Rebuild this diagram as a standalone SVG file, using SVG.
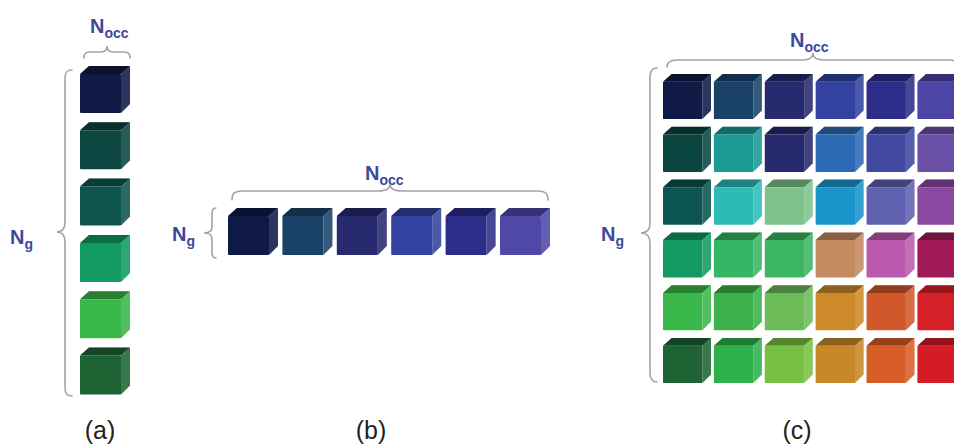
<svg xmlns="http://www.w3.org/2000/svg" xmlns:xlink="http://www.w3.org/1999/xlink" width="954" height="444" viewBox="0 0 954 444">
  <style>
    .lbl { font-family: "Liberation Sans", Arial, sans-serif; font-weight: bold; font-size: 20px; fill: #3c489c; }
    .sub { font-size: 14px; }
    .cap { font-family: "Liberation Sans", Arial, sans-serif; font-size: 25px; fill: #222; text-anchor: middle; }
    .brace { fill: none; stroke: #a3a3a3; stroke-width: 1.6; stroke-linecap: round; }
  </style>
  <defs>
    <!-- one cube, coloured through currentColor; 50 x 47 box -->
    <g id="cube">
      <path d="M0,8 L9,0 L50,0 L41,8 Z" fill="currentColor"/>
      <path d="M0,8 L9,0 L50,0 L41,8 Z" fill="#000" fill-opacity="0.3"/>
      <rect x="0" y="8" width="41" height="39" rx="1" fill="currentColor"/>
      <path d="M41,8 L50,0 L50,38 L41,47 Z" fill="currentColor"/>
      <path d="M41,8 L50,0 L50,38 L41,47 Z" fill="#fff" fill-opacity="0.12"/>
    </g>
  </defs>

  <!-- (a) single column -->
  <g id="panel-a">
    <text class="lbl" x="90" y="33">N<tspan class="sub" dy="5">occ</tspan></text>
    <text class="lbl" x="10" y="244">N<tspan class="sub" dy="5">g</tspan></text>
    <use id="a1" xlink:href="#cube" x="80" y="66" color="#0f1a46"/>
    <use id="a2" xlink:href="#cube" x="80" y="122.3" color="#0d4640"/>
    <use id="a3" xlink:href="#cube" x="80" y="178.6" color="#0e5550"/>
    <use id="a4" xlink:href="#cube" x="80" y="234.9" color="#119a62"/>
    <use id="a5" xlink:href="#cube" x="80" y="291.2" color="#3ab74a"/>
    <use id="a6" xlink:href="#cube" x="80" y="347.5" color="#1d6334"/>
    <text class="cap" x="100" y="439">(a)</text>
  </g>

  <!-- (b) single row -->
  <g id="panel-b">
    <text class="lbl" x="365" y="180">N<tspan class="sub" dy="5">occ</tspan></text>
    <text class="lbl" x="172" y="241">N<tspan class="sub" dy="5">g</tspan></text>
    <use id="b1" xlink:href="#cube" x="228" y="208" color="#0f1a46"/>
    <use id="b2" xlink:href="#cube" x="282.4" y="208" color="#1a4268"/>
    <use id="b3" xlink:href="#cube" x="336.8" y="208" color="#272a6e"/>
    <use id="b4" xlink:href="#cube" x="391.2" y="208" color="#3342a0"/>
    <use id="b5" xlink:href="#cube" x="445.6" y="208" color="#2c2d88"/>
    <use id="b6" xlink:href="#cube" x="500" y="208" color="#4f48a8"/>
    <text class="cap" x="371" y="439">(b)</text>
  </g>

  <!-- (c) full grid -->
  <g id="panel-c">
    <text class="lbl" x="790" y="47">N<tspan class="sub" dy="5">occ</tspan></text>
    <text class="lbl" x="601" y="241">N<tspan class="sub" dy="5">g</tspan></text>
    <g transform="translate(663,74) scale(0.96)">
      <g id="c-row1">
        <use xlink:href="#cube" x="0" y="0" color="#0f1a46"/>
        <use xlink:href="#cube" x="53" y="0" color="#1a4268"/>
        <use xlink:href="#cube" x="106" y="0" color="#272a6e"/>
        <use xlink:href="#cube" x="159" y="0" color="#3342a0"/>
        <use xlink:href="#cube" x="212" y="0" color="#2c2d88"/>
        <use xlink:href="#cube" x="265" y="0" color="#4c45a5"/>
      </g>
      <g id="c-row2">
        <use xlink:href="#cube" x="0" y="55" color="#0b4540"/>
        <use xlink:href="#cube" x="53" y="55" color="#1a9a92"/>
        <use xlink:href="#cube" x="106" y="55" color="#272a6e"/>
        <use xlink:href="#cube" x="159" y="55" color="#2c6ab5"/>
        <use xlink:href="#cube" x="212" y="55" color="#4048a0"/>
        <use xlink:href="#cube" x="265" y="55" color="#6a50a8"/>
      </g>
      <g id="c-row3">
        <use xlink:href="#cube" x="0" y="110" color="#0c5550"/>
        <use xlink:href="#cube" x="53" y="110" color="#2cbcb8"/>
        <use xlink:href="#cube" x="106" y="110" color="#7dc38a"/>
        <use xlink:href="#cube" x="159" y="110" color="#1a95cc"/>
        <use xlink:href="#cube" x="212" y="110" color="#6060b0"/>
        <use xlink:href="#cube" x="265" y="110" color="#8a48a0"/>
      </g>
      <g id="c-row4">
        <use xlink:href="#cube" x="0" y="165" color="#139a60"/>
        <use xlink:href="#cube" x="53" y="165" color="#36b664"/>
        <use xlink:href="#cube" x="106" y="165" color="#3cb660"/>
        <use xlink:href="#cube" x="159" y="165" color="#c48a60"/>
        <use xlink:href="#cube" x="212" y="165" color="#bb5aae"/>
        <use xlink:href="#cube" x="265" y="165" color="#a01a5a"/>
      </g>
      <g id="c-row5">
        <use xlink:href="#cube" x="0" y="220" color="#3bb84a"/>
        <use xlink:href="#cube" x="53" y="220" color="#3cb04a"/>
        <use xlink:href="#cube" x="106" y="220" color="#6cbc5a"/>
        <use xlink:href="#cube" x="159" y="220" color="#cc8a2a"/>
        <use xlink:href="#cube" x="212" y="220" color="#d0582a"/>
        <use xlink:href="#cube" x="265" y="220" color="#d62028"/>
      </g>
      <g id="c-row6">
        <use xlink:href="#cube" x="0" y="275" color="#1d6333"/>
        <use xlink:href="#cube" x="53" y="275" color="#2eb04a"/>
        <use xlink:href="#cube" x="106" y="275" color="#78c042"/>
        <use xlink:href="#cube" x="159" y="275" color="#c8882a"/>
        <use xlink:href="#cube" x="212" y="275" color="#d85e28"/>
        <use xlink:href="#cube" x="265" y="275" color="#d41c24"/>
      </g>
    </g>
    <text class="cap" x="797" y="439">(c)</text>
  </g>

  <!-- curly braces marking the dimensions -->
  <g id="braces">
    <path class="brace" d="M84,58 C84,53 86,52 91,52 L101,52 C105,52 107,50 107,46 C107,50 109,52 113,52 L123,52 C128,52 130,53 130,58"/>
    <path class="brace" d="M72,70 C67,70 65,72 65,78 L65,222 C65,229 62,232 57,232 C62,232 65,235 65,242 L65,388 C65,394 67,396 72,396"/>
    <path class="brace" d="M232,200 C232,193 235,191 243,191 L378,191 C386,191 390,189 390,184 C390,189 394,191 402,191 L537,191 C545,191 548,193 548,200"/>
    <path class="brace" d="M216,208 C213,208 212,210 212,214 L212,227 C212,231 209,233 204,233 C209,233 212,235 212,239 L212,252 C212,256 213,258 216,258"/>
    <path class="brace" d="M667,67 C667,62 670,60 677,60 L802,60 C809,60 813,58 813,53 C813,58 817,60 824,60 L949,60 C956,60 959,62 959,67"/>
    <path class="brace" d="M657,68 C652,68 650,71 650,77 L650,223 C650,230 647,233 641,233 C647,233 650,236 650,243 L650,373 C650,379 652,382 657,382"/>
  </g>
</svg>
